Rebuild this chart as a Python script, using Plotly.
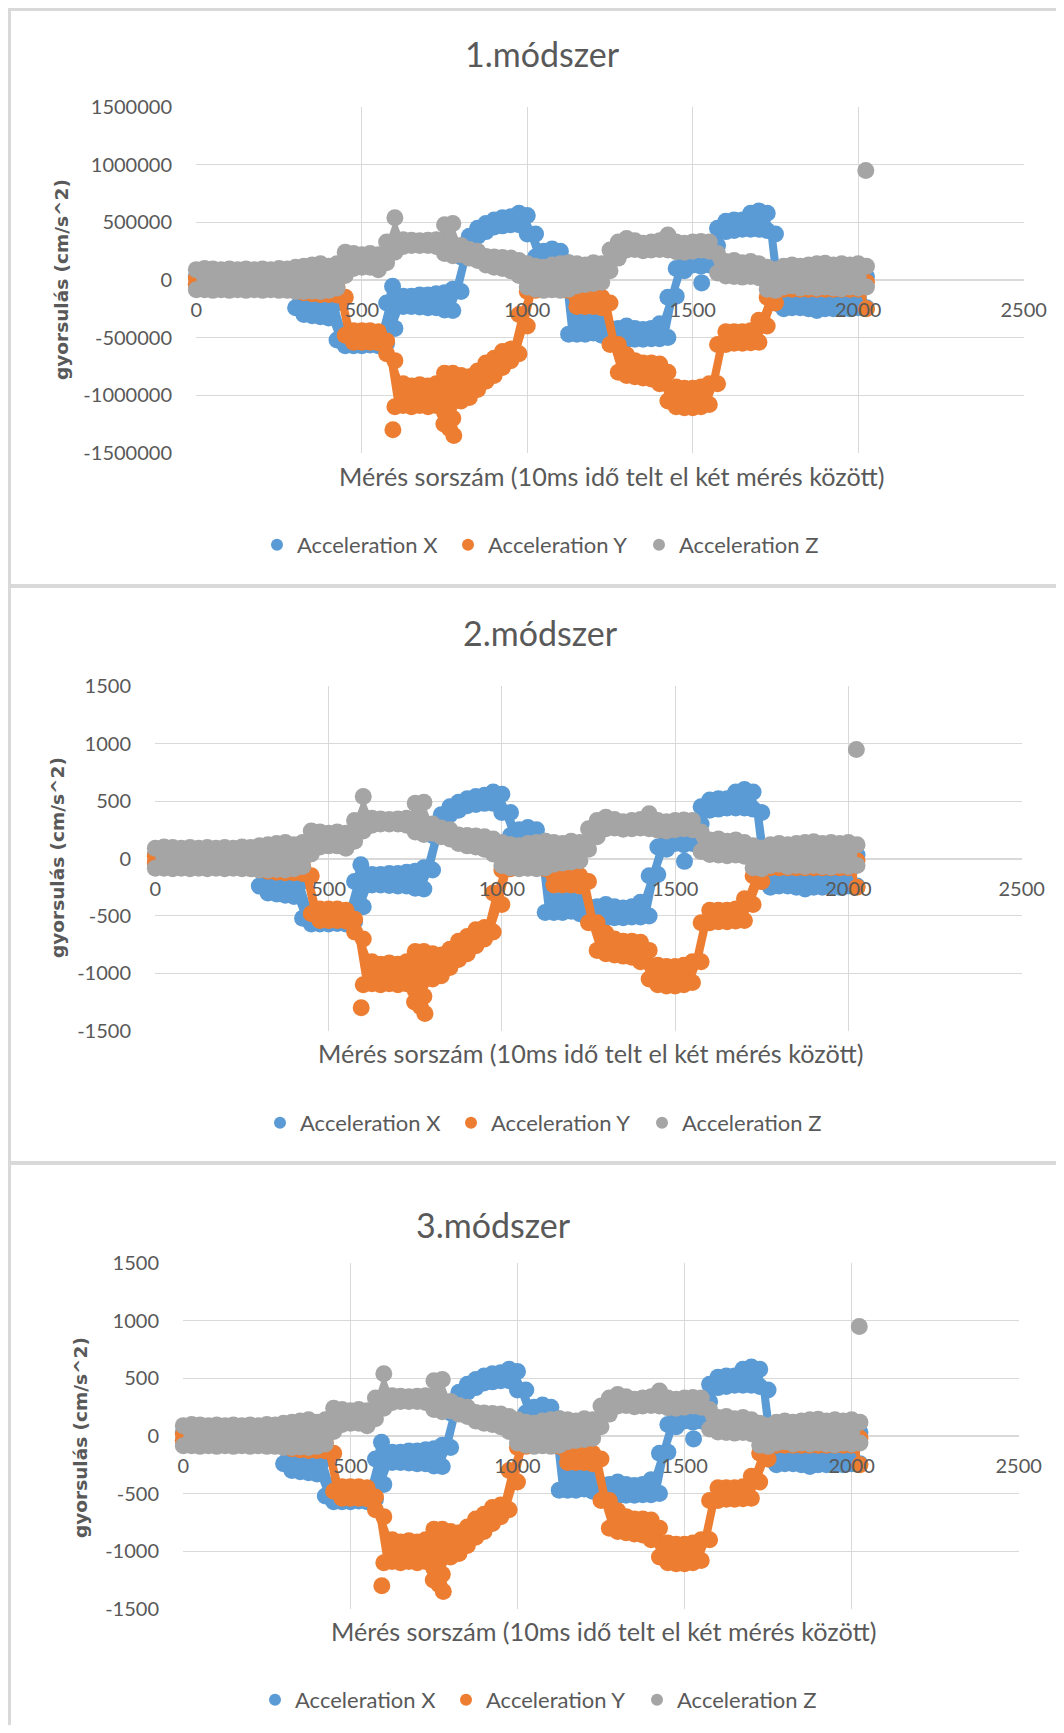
import plotly.graph_objects as go

# page is 1064x1733; the browser adds an 8px body margin, so the figure is drawn 8px smaller
PAGE_W, PAGE_H = 1064, 1733
OFF = 8
W, H = PAGE_W - 2 * OFF, PAGE_H - 2 * OFF

# ---------------- data (values in cm/s^2, as on the 2nd and 3rd panels) ----------------
SAMPLE_X = list(range(0, 2026, 25))  # measurement index (10 ms steps)

# visible band of each noisy series: lower / upper centre of the dots at each sample
ACC_X_LO = [-40, -40, -40, -40, -40, -40, -40, -40, -40, -40, -40, -50, -240, -300, -310, -320, -330, -520,
            -570, -570, -570, -565, -570, -550, -420, -230, -230, -235, -240, -240, -260, -265, -100, 200,
            380, 420, 460, 470, 480, 480, 400, 200, 180, 190, 180, -470, -470, -470, -460, -480, -530, -520,
            -520, -515, -515, -510, -510, -500, -140, 80, 130, 120, 130, 300, 420, 430, 440, 440, 440, 430,
            -200, -250, -240, -240, -250, -265, -250, -250, -240, -250, -240, -240]
ACC_X_HI = [30, 30, 30, 30, 30, 30, 30, 30, 30, 30, 30, 20, -40, -150, -150, -150, -160, -200,
            -440, -480, -480, -480, -470, -200, -130, -140, -140, -130, -130, -120, -110, -80, 200, 380,
            450, 490, 520, 540, 550, 580, 560, 400, 250, 270, 250, 150, -360, -360, -360, -380, -420, -420,
            -400, -420, -430, -420, -380, -150, 100, 180, 200, 200, 250, 450, 510, 520, 520, 580, 600, 580,
            400, -160, -160, -160, -160, -170, -160, -160, -160, -160, -160, 30]

ACC_Y_LO = [-40, -40, -40, -40, -40, -40, -40, -40, -40, -40, -40, -40, -40, -110, -120, -125, -125, -130,
            -480, -540, -540, -540, -545, -640, -1100, -1090, -1100, -1090, -1100, -1090, -1150, -1200, -1050,
            -1020, -950, -880, -830, -760, -700, -640, -400, -90, -80, -80, -80, -90, -230, -230, -230, -240,
            -560, -800, -830, -840, -850, -860, -900, -1050, -1100, -1110, -1110, -1100, -1080, -900, -560,
            -550, -550, -545, -540, -400, -200, -80, -80, -80, -80, -80, -80, -80, -80, -80, -80, -250]
ACC_Y_HI = [20, 20, 20, 20, 20, 20, 20, 20, 20, 20, 20, 20, 20, -40, -60, -60, -60, -60,
            -150, -440, -440, -440, -450, -530, -700, -900, -920, -910, -920, -900, -810, -810, -830,
            -840, -790, -720, -680, -620, -600, -300, -100, -20, 0, 0, 0, -20, -150, -160, -160, -150,
            -200, -560, -650, -700, -720, -720, -730, -800, -930, -940, -940, -930, -900, -560, -450,
            -450, -450, -440, -350, -150, -20, 0, 0, 0, 0, 0, 0, 0, 0, 0, 0, -20]

ACC_Z_LO = [-85, -85, -90, -85, -90, -85, -90, -85, -90, -85, -90, -90, -100, -100, -95, -100, -90, -70,
            40, 100, 110, 110, 90, 150, 240, 290, 300, 300, 300, 290, 230, 210, 220, 190, 170, 130, 110,
            100, 80, 40, -60, -80, -90, -85, -90, -80, -50, -40, -30, -20, 80, 190, 260, 265, 255, 260, 265,
            260, 245, 240, 250, 260, 250, 60, 35, 30, 25, 30, 20, -80, -90, -60, -50, -70, -60, -70, -60,
            -70, -75, -60, -70, -60]
ACC_Z_HI = [90, 100, 95, 90, 95, 90, 95, 90, 95, 90, 100, 95, 110, 120, 130, 140, 120, 140,
            240, 230, 220, 230, 220, 330, 540, 350, 345, 340, 345, 350, 480, 490, 300, 265, 250, 205, 200,
            195, 190, 170, 140, 120, 110, 130, 140, 150, 140, 130, 150, 140, 260, 330, 360, 340, 320, 330, 340,
            390, 330, 320, 330, 335, 330, 230, 160, 170, 150, 160, 140, 110, 90, 120, 130, 120, 130, 140, 145,
            130, 140, 130, 140, 120]

# isolated dots outside the bands
ACC_X_OUT_X = [593, 1527]
ACC_X_OUT_Y = [-55, -25]
ACC_Y_OUT_X = [594, 748, 765, 778]
ACC_Y_OUT_Y = [-1300, -1250, -1290, -1350]
ACC_Z_OUT_X = [2023]
ACC_Z_OUT_Y = [950]

SERIES_NAMES = ["Acceleration X", "Acceleration Y", "Acceleration Z"]
PANEL_TITLES = ["1.módszer", "2.módszer", "3.módszer"]
PANEL_SCALE = [1000, 1, 1]          # panel 1 is shown in 1000x larger units
Y_TICKS = [-1500, -1000, -500, 0, 500, 1000, 1500]
X_TICKS = [0, 500, 1000, 1500, 2000, 2500]
X_TITLE = "Mérés sorszám (10ms idő telt el két mérés között)"
Y_TITLE = "gyorsulás (cm/s^2)"

# ---------------- styles / layout ----------------
COLORS = ["#5B9BD5", "#ED7D31", "#A5A5A5"]
FONT = "Lato, 'Open Sans', sans-serif"
TXT = "#595959"
GRID = "#D9D9D9"
MSIZE = 17


def px(x):
    return (x - OFF) / W


def py(y):
    return 1 - (y - OFF) / H


# pixel geometry (page coordinates) of the three panels
PANELS = [
    dict(plot=(196, 1024, 107, 453), title=(542, 53), xtitle=(611, 476), ytitle=(61, 280), legend=(283, 545)),
    dict(plot=(155, 1022, 686, 1031), title=(540, 632), xtitle=(590, 1053), ytitle=(57, 858), legend=(286, 1123)),
    dict(plot=(183, 1019, 1263, 1609), title=(493, 1224), xtitle=(603, 1631), ytitle=(80, 1438), legend=(281, 1700)),
]

series = [
    (ACC_X_LO, ACC_X_HI, ACC_X_OUT_X, ACC_X_OUT_Y),
    (ACC_Y_LO, ACC_Y_HI, ACC_Y_OUT_X, ACC_Y_OUT_Y),
    (ACC_Z_LO, ACC_Z_HI, ACC_Z_OUT_X, ACC_Z_OUT_Y),
]

fig = go.Figure()
annotations = []
layout = {}

for i, (panel, scale) in enumerate(zip(PANELS, PANEL_SCALE)):
    k = "" if i == 0 else str(i + 1)
    xa, ya = "x" + k, "y" + k
    lg = "legend" + k
    for (lo, hi, ox, oy), name, color in zip(series, SERIES_NAMES, COLORS):
        lo_s = [v * scale for v in lo]
        hi_s = [v * scale for v in hi]
        fig.add_trace(go.Scatter(
            x=SAMPLE_X + SAMPLE_X[::-1], y=hi_s + lo_s[::-1],
            mode="lines", line=dict(width=0, color=color), fill="toself", fillcolor=color,
            hoverinfo="skip", showlegend=False, xaxis=xa, yaxis=ya))
        fig.add_trace(go.Scatter(
            x=SAMPLE_X + SAMPLE_X + ox, y=hi_s + lo_s + [v * scale for v in oy],
            mode="markers", marker=dict(size=MSIZE, color=color, line=dict(width=0)),
            cliponaxis=False,
            name=name, legend=lg, showlegend=True, xaxis=xa, yaxis=ya))

    x0, x1, y0, y1 = panel["plot"]
    zero_py = (y0 + y1) / 2
    layout["xaxis" + k] = dict(
        domain=[px(x0), px(x1)], range=[-1, 2501], tickvals=X_TICKS,
        ticktext=[str(t) for t in X_TICKS], automargin=False,
        showgrid=True, gridcolor=GRID, gridwidth=1, zeroline=False, showline=False,
        anchor="free", position=py(zero_py), ticks="", ticklabelstandoff=16,
        tickfont=dict(family=FONT, size=20, color=TXT), fixedrange=True)
    layout["yaxis" + k] = dict(
        domain=[py(y1), py(y0)], range=[-1502 * scale, 1502 * scale], automargin=False,
        tickvals=[t * scale for t in Y_TICKS], ticktext=[str(t * scale) for t in Y_TICKS],
        showgrid=True, gridcolor=GRID, gridwidth=1, zeroline=True, zerolinecolor=GRID,
        zerolinewidth=1.5, showline=False, anchor="x" + k, ticks="", ticklabelstandoff=23,
        tickfont=dict(family=FONT, size=20, color=TXT), fixedrange=True)
    lx, lyy = panel["legend"]
    layout[lg] = dict(
        orientation="h", x=px(lx - 26), y=py(lyy), xanchor="left", yanchor="middle",
        font=dict(family=FONT, size=22, color=TXT), itemsizing="constant",
        entrywidth=146, bgcolor="rgba(0,0,0,0)", traceorder="normal")

    tx, ty = panel["title"]
    annotations.append(dict(text=PANEL_TITLES[i], x=px(tx), y=py(ty), xref="paper", yref="paper",
                            xanchor="center", yanchor="middle", showarrow=False,
                            font=dict(family=FONT, size=34, color=TXT)))
    tx, ty = panel["xtitle"]
    annotations.append(dict(text=X_TITLE, x=px(tx), y=py(ty), xref="paper", yref="paper",
                            xanchor="center", yanchor="middle", showarrow=False,
                            font=dict(family=FONT, size=25.2, color=TXT)))
    tx, ty = panel["ytitle"]
    annotations.append(dict(text="<b>" + Y_TITLE + "</b>", x=px(tx), y=py(ty), xref="paper", yref="paper",
                            xanchor="center", yanchor="middle", showarrow=False, textangle=-90,
                            font=dict(family="'DejaVu Sans', sans-serif", size=18.5, color=TXT)))

BORDER = "#D9D9D9"
shapes = [
    dict(type="line", xref="paper", yref="paper", x0=1.5 / W, x1=1.5 / W, y0=1, y1=0,
         line=dict(color=BORDER, width=3)),
    dict(type="line", xref="paper", yref="paper", x0=0, x1=1, y0=1 - 1.5 / H, y1=1 - 1.5 / H,
         line=dict(color=BORDER, width=3)),
    dict(type="line", xref="paper", yref="paper", x0=0, x1=1, y0=py(586), y1=py(586),
         line=dict(color=BORDER, width=4)),
    dict(type="line", xref="paper", yref="paper", x0=0, x1=1, y0=py(1163), y1=py(1163),
         line=dict(color=BORDER, width=4)),
]

fig.update_layout(
    width=W, height=H, margin=dict(l=0, r=0, t=0, b=0, pad=0, autoexpand=False),
    paper_bgcolor="white", plot_bgcolor="white",
    annotations=annotations, shapes=shapes, hovermode=False,
    **layout)

fig.write_html("out.html")
